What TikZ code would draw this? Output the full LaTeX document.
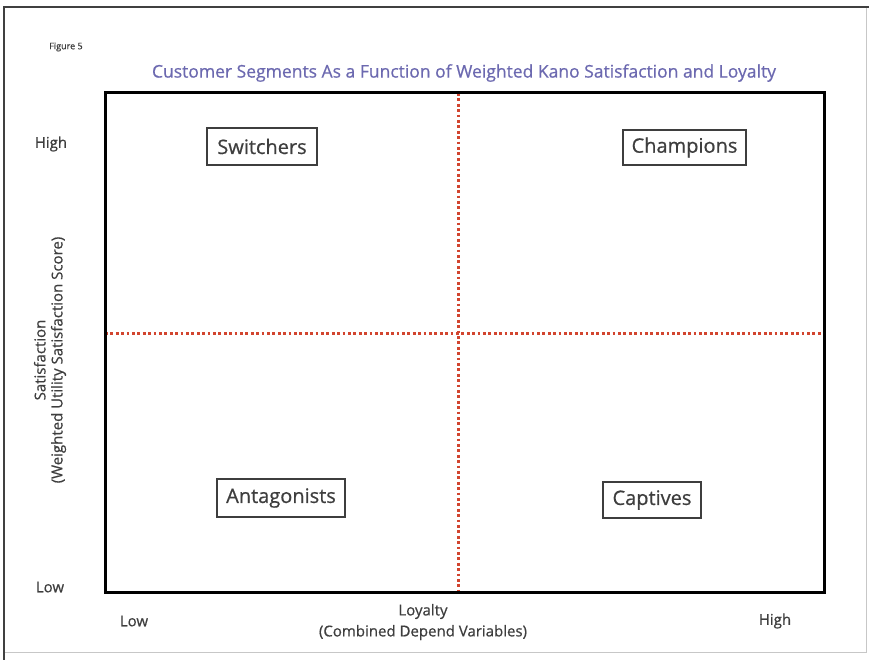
\documentclass[tikz,border=0pt]{standalone}
\usepackage{fontspec}
\setmainfont{Open Sans}[FakeBold=0.6]
\usetikzlibrary{positioning}
\definecolor{titleblue}{HTML}{6C69B0}
\definecolor{quadred}{HTML}{D2452F}
\definecolor{labelgray}{HTML}{3E3E3E}

\tikzset{
  segment/.style={draw=labelgray, line width=1.5pt, inner sep=0pt, text=labelgray, font=\fontsize{20}{22}\selectfont},
  axislabel/.style={text=labelgray, inner sep=0pt, font=\fontsize{15}{17}\selectfont},
  divider/.style={quadred, line width=3pt, dash pattern=on 2.8pt off 2.6pt},
}

\begin{document}
\begin{tikzpicture}[x=1pt, y=-1pt]
    \useasboundingbox (0,0) rectangle (869,660);
    \fill[white] (0,0) rectangle (869,660);
    % page frame
    \draw[black!22, line width=1pt] (4,652) -- (866,652) -- (866,7);
    \draw[black!75, line width=1.5pt] (4,660) -- (4,7) -- (869,7);

    \node[text=labelgray, font=\fontsize{9}{10}\selectfont] (figno) at (66,47) {Figure 5};
    \node[text=titleblue, font=\fontsize{17.5}{20}\selectfont] (title) at (464,73) {Customer Segments As a Function of Weighted Kano Satisfaction and Loyalty};

    % quadrant grid
    \coordinate (sw) at (105,592);
    \coordinate (ne) at (824,93);
    \coordinate (midtop) at (458,93);
    \coordinate (midbot) at (458,592);
    \coordinate (midleft) at (105,333);
    \coordinate (midright) at (824,333);
    \draw[divider] (midtop) -- (midbot);
    \draw[divider] (midleft) -- (midright);
    \draw[line width=3pt] (sw) rectangle (ne);

    % segments
    \node[segment, minimum width=110pt, minimum height=37pt] (switchers) at (262,146.5) {Switchers};
    \node[segment, minimum width=123pt, minimum height=35pt] (champions) at (684.5,147.5) {Champions};
    \node[segment, minimum width=128pt, minimum height=38pt] (antagonists) at (281,498) {Antagonists};
    \node[segment, minimum width=98pt, minimum height=36pt] (captives) at (652,500) {Captives};

    % axis labels
    \node[axislabel] (sathigh) at (51,144) {High};
    \node[axislabel] (satlow) at (50,587) {Low};
    \node[axislabel, rotate=90, align=center] (satlabel) at (50,360) {Satisfaction\\(Weighted Utility Satisfaction Score)};
    \node[axislabel] (loylow) at (134,621) {Low};
    \node[axislabel] (loyhigh) at (775,621) {High};
    \node[axislabel, align=center, font=\fontsize{15}{21}\selectfont] (loylabel) at (423,622) {Loyalty\\(Combined Depend Variables)};
\end{tikzpicture}
\end{document}
